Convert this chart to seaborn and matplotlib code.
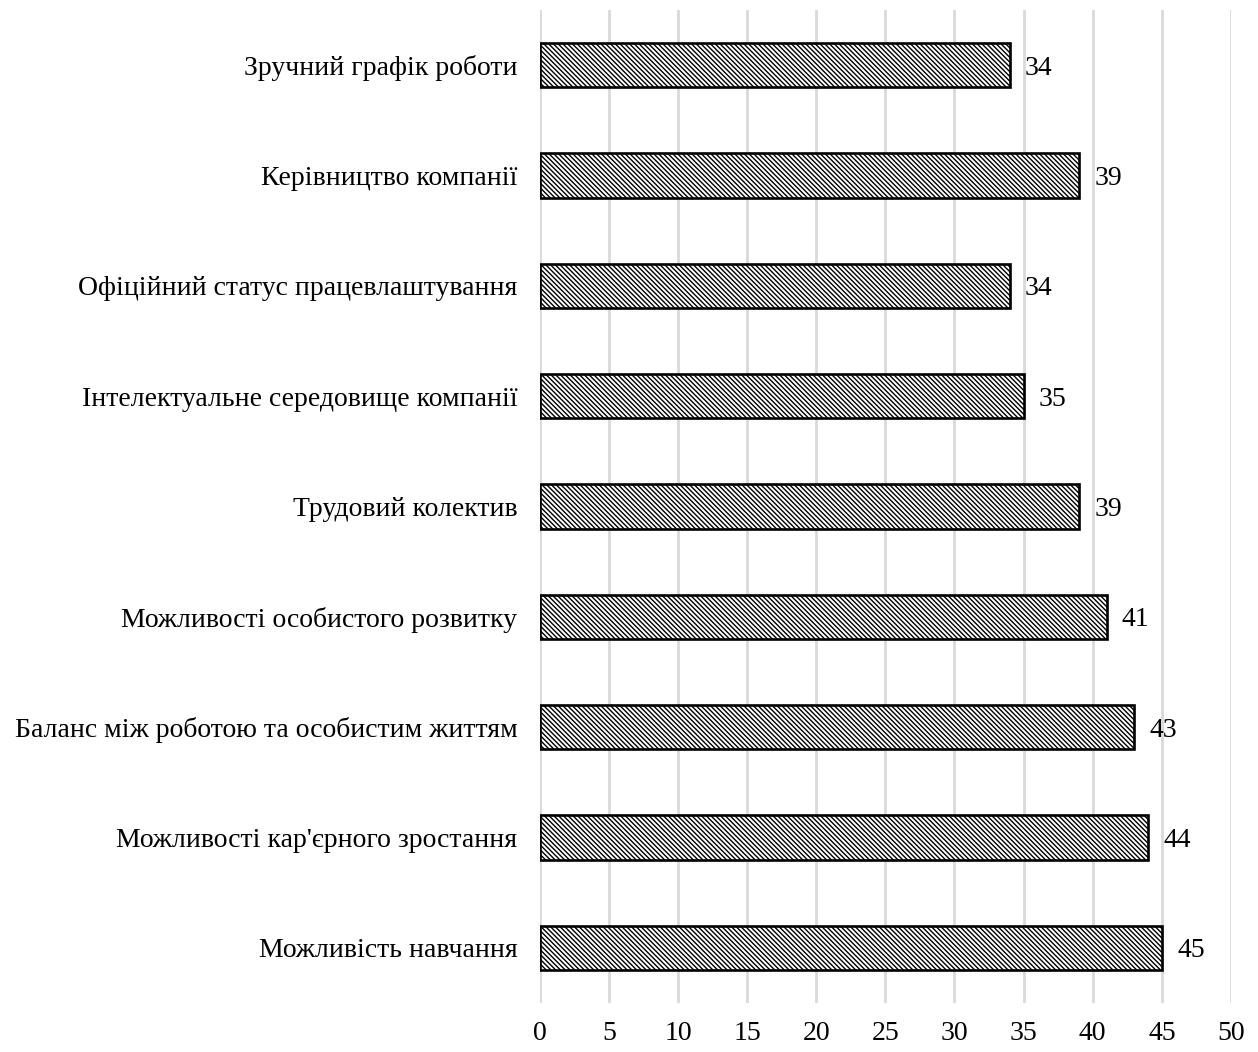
import matplotlib
matplotlib.use("Agg")
import matplotlib.pyplot as plt
import seaborn as sns
import pandas as pd

categories = [
    "Зручний графік роботи",
    "Керівництво компанії",
    "Офіційний статус працевлаштування",
    "Інтелектуальне середовище компанії",
    "Трудовий колектив",
    "Можливості особистого розвитку",
    "Баланс між роботою та особистим життям",
    "Можливості кар'єрного зростання",
    "Можливість навчання",
]
values = [34, 39, 34, 35, 39, 41, 43, 44, 45]
x_ticks = [0, 5, 10, 15, 20, 25, 30, 35, 40, 45, 50]

sns.set_theme(style="white")
plt.rcParams["font.family"] = ["Liberation Serif", "DejaVu Serif"]
plt.rcParams["hatch.linewidth"] = 1.0
plt.rcParams["hatch.color"] = "black"
plt.rcParams["text.color"] = "black"
plt.rcParams["xtick.color"] = "black"
plt.rcParams["ytick.color"] = "black"

df = pd.DataFrame({"cat": categories, "val": values})

fig = plt.figure(figsize=(12.58, 10.52), dpi=100)
ax = fig.add_axes([0.429, 0.0466, 0.5495, 0.9439])

sns.barplot(data=df, x="val", y="cat", orient="h", color="white",
            edgecolor="black", linewidth=1.9, width=0.4, ax=ax, zorder=3)
for p in ax.patches:
    p.set_hatch("\\" * 7)
    p.set_facecolor("white")

for i, v in enumerate(values):
    ax.text(v + 1.1, i, str(v), va="center_baseline", ha="left", fontsize=20, color="black")

ax.set_xlim(0, 50)
ax.set_xticks(x_ticks)
ax.set_xticklabels([str(t) for t in x_ticks], fontsize=20)
ax.tick_params(axis="y", labelsize=20, length=0, pad=16, labelcolor="black")
ax.tick_params(axis="x", length=0, pad=13, labelcolor="black")
ax.set_xlabel("")
ax.set_ylabel("")
ax.set_ylim(len(categories) - 0.5, -0.5)
ax.xaxis.grid(True, color="#d9d9d9", linewidth=2, zorder=0)
ax.set_axisbelow(True)
for s in ax.spines.values():
    s.set_visible(False)

fig.savefig("out.png", dpi=100, facecolor="white")
